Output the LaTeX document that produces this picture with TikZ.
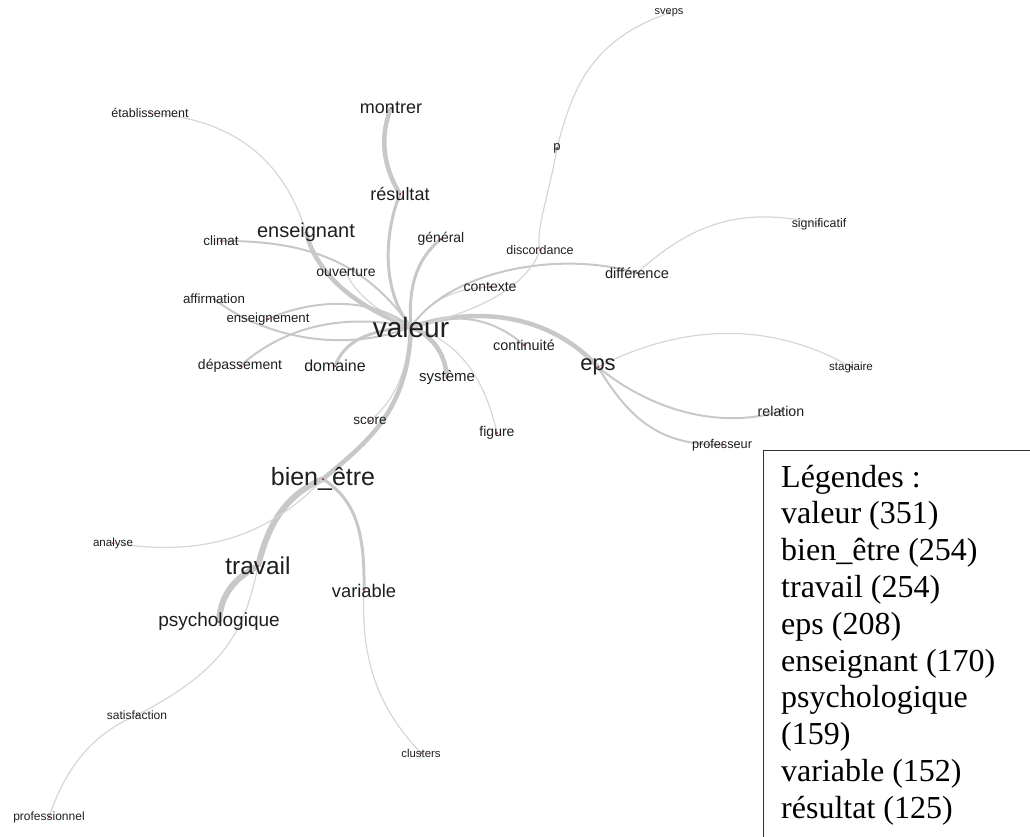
\documentclass[tikz,border=0pt]{standalone}
\usepackage{fontspec}
\newfontfamily\gsans{Liberation Sans}
\newfontfamily\gserif{Liberation Serif}
\pgfdeclarelayer{edges}
\pgfsetlayers{edges,main}
\definecolor{txt}{HTML}{1E1E1E}
\definecolor{edgeA}{HTML}{D6D6D6}
\definecolor{edgeB}{HTML}{C8C8C8}
\definecolor{dotc}{HTML}{701818}
\definecolor{boxc}{HTML}{333333}
\tikzset{
  word/.style={inner sep=0pt, text=txt, font=\gsans\fontsize{#1}{#1}\selectfont},
  legline/.style={inner sep=0pt, anchor=base west, text=black, font=\gserif\fontsize{32}{32}\selectfont},
  lnA/.style={draw=edgeA, line width=1.2pt},
  lnB/.style={draw=edgeB, line width=2pt},
  lnC/.style={draw=edgeB, line width=3pt},
  lnD/.style={draw=edgeB, line width=4.5pt},
  lnE/.style={draw=edgeB, line width=6pt},
  legbox/.style={draw=boxc, line width=1pt},
}
\begin{document}
\begin{tikzpicture}[x=1pt,y=-1pt]
\useasboundingbox (0,0) rectangle (1030,836);
\clip (0,0) rectangle (1030,836);
% nodes
\node[word=18] (montrer) at (391,108) {montrer};
\node[word=18] (resultat) at (400,194) {résultat};
\node[word=12.5] (etab) at (150,113) {établissement};
\node[word=20] (enseignant) at (306,232) {enseignant};
\node[word=13.5] (climat) at (221,241) {climat};
\node[word=14] (general) at (441,239) {général};
\node[word=14] (ouverture) at (346,272) {ouverture};
\node[word=13.3] (affirmation) at (214,299) {affirmation};
\node[word=13.2] (enseignement) at (268,319) {enseignement};
\node[word=28] (valeur) at (411,327) {valeur};
\node[word=14] (depassement) at (240,366) {dépassement};
\node[word=16] (domaine) at (335,366) {domaine};
\node[word=15] (systeme) at (447,378) {système};
\node[word=11] (sveps) at (669,13) {sveps};
\node[word=13] (p) at (557,148) {p};
\node[word=12.4] (significatif) at (819,224) {significatif};
\node[word=12.5] (discordance) at (540,250) {discordance};
\node[word=14.6] (difference) at (637,273) {différence};
\node[word=14] (contexte) at (490,287) {contexte};
\node[word=14.4] (continuite) at (524,345) {continuité};
\node[word=22] (eps) at (598,367) {eps};
\node[word=11.6] (stagiaire) at (851,367) {stagiaire};
\node[word=14.2] (relation) at (781,411) {relation};
\node[word=14] (figure) at (497,433) {figure};
\node[word=12.7] (professeur) at (722,445) {professeur};
\node[word=13.6] (score) at (370,421) {score};
\node[word=25] (bienetre) at (323,479) {bien\_être};
\node[word=11.6] (analyse) at (113,543) {analyse};
\node[word=24.4] (travail) at (258,566) {travail};
\node[word=18.3] (variable) at (364,591) {variable};
\node[word=19] (psycho) at (219,622) {psychologique};
\node[word=12] (satisfaction) at (137,715) {satisfaction};
\node[word=11.4] (clusters) at (421,753) {clusters};
\node[word=12] (professionnel) at (49,817) {professionnel};
% dots
\foreach \n in {montrer,resultat,etab,enseignant,climat,general,ouverture,affirmation,enseignement,valeur,depassement,domaine,systeme,sveps,p,significatif,discordance,difference,contexte,continuite,eps,stagiaire,relation,figure,professeur,score,bienetre,analyse,travail,variable,psycho,satisfaction,clusters,professionnel}
  \fill[dotc] (\n.center) circle (1pt);
% edges
\begin{pgfonlayer}{edges}
\draw[lnD] (montrer.center) .. controls (380,135) and (382,165) .. (resultat.center);
\draw[lnC] (resultat.center) .. controls (385,230) and (380,290) .. (valeur.center);
\draw[lnA] (etab.center) .. controls (240,120) and (285,165) .. (enseignant.center);
\draw[lnD] (enseignant.center) .. controls (315,270) and (350,305) .. (valeur.center);
\draw[lnB] (climat.center) .. controls (320,240) and (370,270) .. (valeur.center);
\draw[lnA] (ouverture.center) .. controls (352,290) and (380,315) .. (valeur.center);
\draw[lnC] (general.center) .. controls (415,260) and (408,290) .. (valeur.center);
\draw[lnB] (affirmation.center) .. controls (260,335) and (340,355) .. (valeur.center);
\draw[lnB] (enseignement.center) .. controls (310,300) and (370,295) .. (valeur.center);
\draw[lnB] (depassement.center) .. controls (275,335) and (330,310) .. (valeur.center);
\draw[lnC] (domaine.center) .. controls (345,340) and (370,330) .. (valeur.center);
\draw[lnD] (systeme.center) .. controls (445,350) and (430,335) .. (valeur.center);
\draw[lnA] (figure.center) .. controls (485,380) and (460,340) .. (valeur.center);
\draw[lnA] (score.center) .. controls (395,400) and (408,370) .. (valeur.center);
\draw[lnD] (valeur.center) .. controls (408,410) and (370,440) .. (bienetre.center);
\draw[lnE] (bienetre.center) .. controls (285,495) and (268,525) .. (travail.center);
\draw[lnE] (travail.center) .. controls (230,580) and (220,600) .. (psycho.center);
\draw[lnC] (bienetre.center) .. controls (355,500) and (365,530) .. (variable.center);
\draw[lnA] (variable.center) .. controls (360,670) and (385,715) .. (clusters.center);
\draw[lnA] (bienetre.center) .. controls (260,545) and (190,555) .. (analyse.center);
\draw[lnA] (travail.center) .. controls (245,630) and (225,670) .. (satisfaction.center);
\draw[lnA] (satisfaction.center) .. controls (90,735) and (65,770) .. (professionnel.center);
\draw[lnD] (valeur.center) .. controls (480,305) and (550,315) .. (eps.center);
\draw[lnB] (valeur.center) .. controls (460,310) and (495,320) .. (continuite.center);
\draw[lnA] (valeur.center) .. controls (430,300) and (455,288) .. (contexte.center);
\draw[lnB] (valeur.center) .. controls (450,270) and (560,250) .. (difference.center);
\draw[lnA] (valeur.center) .. controls (490,310) and (530,280) .. (discordance.center);
\draw[lnA] (discordance.center) .. controls (535,230) and (548,200) .. (p.center);
\draw[lnA] (p.center) .. controls (572,90) and (590,40) .. (sveps.center);
\draw[lnA] (difference.center) .. controls (690,225) and (740,205) .. (significatif.center);
\draw[lnA] (eps.center) .. controls (670,330) and (760,315) .. (stagiaire.center);
\draw[lnB] (eps.center) .. controls (650,410) and (720,430) .. (relation.center);
\draw[lnB] (eps.center) .. controls (630,420) and (660,445) .. (professeur.center);
\end{pgfonlayer}
% legend
\draw[legbox] (763,450) rectangle (1045,850);
\node[legline] (leg0) at (781,487) {Légendes :};
\node[legline] (leg1) at (781,523.8) {valeur (351)};
\node[legline] (leg2) at (781,560.6) {bien\_être (254)};
\node[legline] (leg3) at (781,597.4) {travail (254)};
\node[legline] (leg4) at (781,634.2) {eps (208)};
\node[legline] (leg5) at (781,671) {enseignant (170)};
\node[legline] (leg6) at (781,707.8) {psychologique};
\node[legline] (leg7) at (781,744.6) {(159)};
\node[legline] (leg8) at (781,781.4) {variable (152)};
\node[legline] (leg9) at (781,818.2) {résultat (125)};
\end{tikzpicture}
\end{document}
